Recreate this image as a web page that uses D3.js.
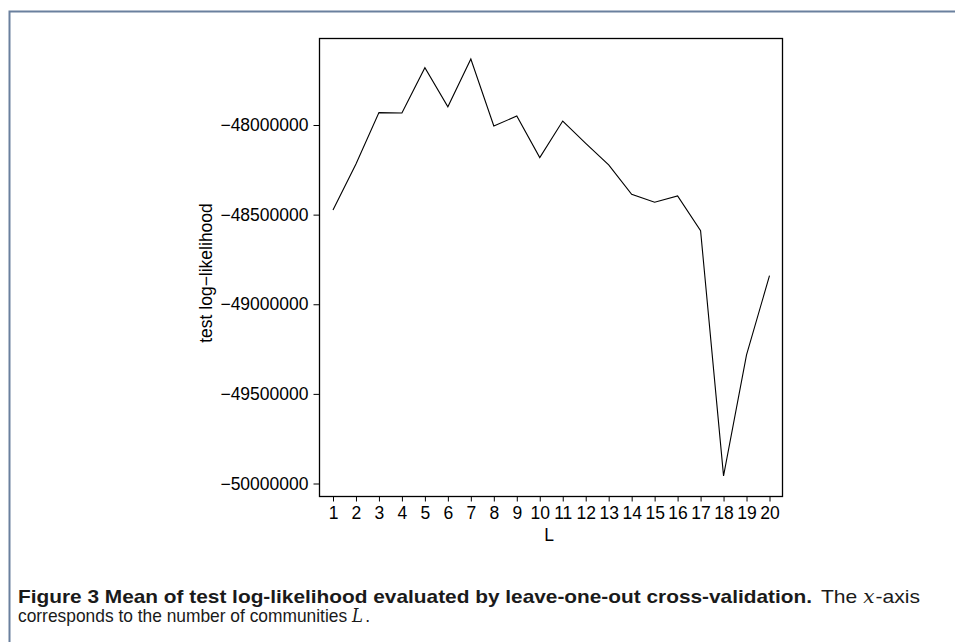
<!DOCTYPE html>
<html><head><meta charset="utf-8">
<script src="https://cdn.jsdelivr.net/npm/d3@7"></script>
<style>body{margin:0;background:#fff;} svg{display:block;}</style>
</head><body>
<svg id="c" width="955" height="642"></svg>
<script>
const categories = [1,2,3,4,5,6,7,8,9,10,11,12,13,14,15,16,17,18,19,20];
const values = [-48474000,-48217500,-47931000,-47933000,-47680000,-47898000,-47632000,-48005600,-47950000,-48182000,
                -47977700,-48102000,-48223000,-48386500,-48431000,-48396000,-48589500,-49957600,-49282800,-48840400];
const yTicks = [-48000000,-48500000,-49000000,-49500000,-50000000];
const xLabel = "L";
const yLabel = "test log\u2212likelihood";

(function(){
const svg = d3.select("#c");
// figure frame
svg.append("path").attr("d","M956,11.5 H9.5 V642").attr("fill","none").attr("stroke","#6a809e").attr("stroke-width",2);

const pL=319.5, pR=782.5, pT=38.5, pB=496.5;
const x = d3.scaleLinear().domain([1,20]).range([333,769.5]);
const y = d3.scaleLinear().domain([-48000000,-50000000]).range([125,483.5]);
const font = "Liberation Sans, Arial, sans-serif";

svg.append("rect").attr("x",pL).attr("y",pT).attr("width",pR-pL).attr("height",pB-pT)
  .attr("fill","none").attr("stroke","#000").attr("stroke-width",1.3);

const gx = svg.append("g").attr("transform",`translate(0,${pB})`)
  .call(d3.axisBottom(x).tickValues(categories).tickSize(5).tickPadding(5).tickFormat(d3.format("d")));
gx.select(".domain").remove();
gx.selectAll("text").attr("font-family",font).attr("font-size",17.5).attr("fill","#000");
gx.selectAll("line").attr("stroke","#000");

const gy = svg.append("g").attr("transform",`translate(${pL},0)`)
  .call(d3.axisLeft(y).tickValues(yTicks).tickSize(6).tickPadding(5).tickFormat(d=>"\u2212"+Math.abs(d)));
gy.select(".domain").remove();
gy.selectAll("text").attr("font-family",font).attr("font-size",17.5).attr("fill","#000");
gy.selectAll("line").attr("stroke","#000");

svg.append("path").datum(categories.map((c,i)=>[c,values[i]]))
  .attr("d", d3.line().x(d=>x(d[0])).y(d=>y(d[1])))
  .attr("fill","none").attr("stroke","#000").attr("stroke-width",1.1);

svg.append("text").attr("x",549).attr("y",541).attr("text-anchor","middle")
  .attr("font-family",font).attr("font-size",17.5).text(xLabel);
svg.append("text").attr("transform","translate(212,273) rotate(-90)").attr("text-anchor","middle")
  .attr("font-family",font).attr("font-size",17.5).text(yLabel);

// caption
const capFont = "Liberation Sans, Arial, sans-serif";
const mathFont = "DejaVu Serif, serif";
svg.append("text").attr("x",18).attr("y",602.5).attr("font-family",capFont)
  .attr("font-size",19).attr("font-weight","bold").attr("fill","#1a1a1a")
  .attr("textLength",794).attr("lengthAdjust","spacingAndGlyphs")
  .text("Figure 3 Mean of test log-likelihood evaluated by leave-one-out cross-validation.");
const c2 = svg.append("text").attr("x",821).attr("y",602.5).attr("font-family",capFont)
  .attr("font-size",19).attr("fill","#1a1a1a").attr("textLength",99).attr("lengthAdjust","spacingAndGlyphs");
c2.append("tspan").text("The ");
c2.append("tspan").attr("font-family",mathFont).attr("font-style","italic").attr("font-size",18).text("x");
c2.append("tspan").attr("dx",1).text("-axis");
const c3 = svg.append("text").attr("x",18).attr("y",621.5).attr("font-family",capFont)
  .attr("font-size",19).attr("fill","#1a1a1a").attr("textLength",352).attr("lengthAdjust","spacingAndGlyphs");
c3.append("tspan").text("corresponds to the number of communities ");
c3.append("tspan").attr("font-family",mathFont).attr("font-style","italic").attr("font-size",18).text("L");
c3.append("tspan").attr("dx",2.5).text(".");
})();
</script>
</body></html>
